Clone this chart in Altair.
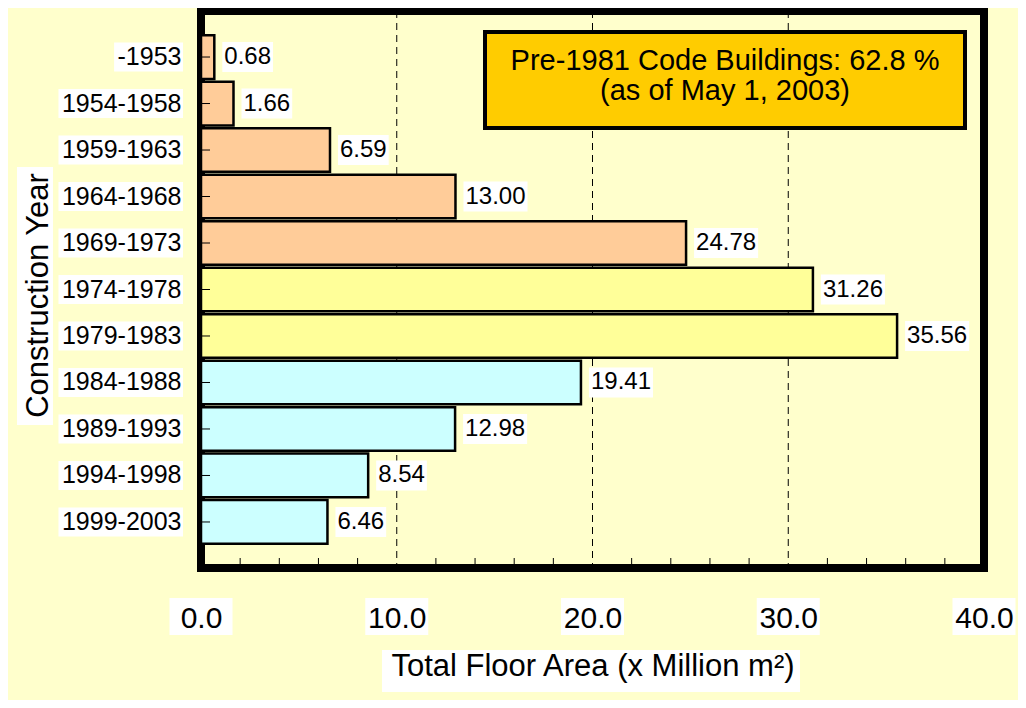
import altair as alt
import pandas as pd

# ---- data ----
years = ["-1953", "1954-1958", "1959-1963", "1964-1968", "1969-1973", "1974-1978",
         "1979-1983", "1984-1988", "1989-1993", "1994-1998", "1999-2003"]
areas = [0.68, 1.66, 6.59, 13.00, 24.78, 31.26, 35.56, 19.41, 12.98, 8.54, 6.46]
area_labels = ["0.68", "1.66", "6.59", "13.00", "24.78", "31.26", "35.56",
               "19.41", "12.98", "8.54", "6.46"]
groups = ["Pre-1971 code"] * 5 + ["1971 code"] * 2 + ["1981 code"] * 4
group_names = ["Pre-1971 code", "1971 code", "1981 code"]
group_colors = ["#FFCC99", "#FFFF99", "#CCFFFF"]
x_ticks = [0, 10, 20, 30, 40]
grid_values = [10, 20, 30]
minor_ticks = [2, 4, 6, 8, 12, 14, 16, 18, 22, 24, 26, 28, 32, 34, 36, 38]
note_lines = ["Pre-1981 Code Buildings: 62.8 %", "(as of May 1, 2003)"]
x_title = "Total Floor Area (x Million m²)"
y_title = "Construction Year"

# ---- layout ----
W, H = 783, 557
PPU = W / 40.0
FONT = "Liberation Sans"
BG = "#FFFFCC"

df = pd.DataFrame({"year": years, "area": areas, "lbl": area_labels, "grp": groups})
one = pd.DataFrame({"k": [0]})

xscale = alt.Scale(domain=[0, 40], nice=False, zero=True)
yscale = alt.Scale(domain=years, paddingInner=0.06, paddingOuter=0.52)

X = alt.X("area:Q", scale=xscale, axis=alt.Axis(
    values=x_ticks, format=".1f", labelFontSize=30, labelFont=FONT, labelColor="black",
    labelPadding=35, labelFlush=False, labelOverlap=False, ticks=False, tickSize=0,
    domain=False, grid=False, title=x_title, titleFontSize=31, titleFont=FONT,
    titleFontWeight="normal", titleColor="black", titleY=107, titleBaseline="alphabetic",
    zindex=1))
Y = alt.Y("year:N", scale=yscale, sort=None, axis=alt.Axis(
    labelFontSize=25, labelFont=FONT, labelColor="black", labelPadding=20,
    ticks=False, tickSize=0, domain=False, grid=False, title=y_title,
    titleFontSize=31, titleFont=FONT, titleFontWeight="normal", titleColor="black",
    titleX=-154, titleY=284, titleAngle=270, titleBaseline="alphabetic",
    titleAlign="center", zindex=1))

grid = alt.Chart(pd.DataFrame({"g": grid_values})).mark_rule(
    color="black", strokeWidth=1, strokeDash=[7, 5]).encode(
    x=alt.X("g:Q", scale=xscale), y=alt.value(0), y2=alt.value(H))

bars = alt.Chart(df).mark_bar(stroke="black", strokeWidth=2.5).encode(
    x=X, y=Y,
    color=alt.Color("grp:N", scale=alt.Scale(domain=group_names, range=group_colors),
                    legend=None))

yticks = alt.Chart(df).mark_rule(color="black", strokeWidth=1).encode(
    x=alt.value(0), x2=alt.value(9), y=alt.Y("year:N", scale=yscale, sort=None))

mticks = alt.Chart(pd.DataFrame({"t": minor_ticks})).mark_rule(
    color="black", strokeWidth=1).encode(
    x=alt.X("t:Q", scale=xscale), y=alt.value(H - 10), y2=alt.value(H))

# white boxes behind value labels
vbox = alt.Chart(df).transform_calculate(
    w=f"((length(datum.lbl)-1)*0.556+0.278)*24",
).transform_calculate(
    bx1=f"datum.area + 8/{PPU}",
    bx2=f"datum.area + (12 + datum.w)/{PPU}",
).mark_bar(color="white", size=30).encode(
    x=alt.X("bx1:Q", scale=xscale), x2="bx2:Q",
    y=alt.Y("year:N", scale=yscale, sort=None))

vtext = alt.Chart(df).mark_text(
    align="left", baseline="middle", dx=10, fontSize=24, font=FONT, color="black").encode(
    x=alt.X("area:Q", scale=xscale), y=alt.Y("year:N", scale=yscale, sort=None),
    text="lbl:N")

# white boxes behind y tick labels
ybox = alt.Chart(df).transform_calculate(
    w="((length(datum.year)-1)*0.556+0.333)*25",
).transform_calculate(
    bx2=f"-18/{PPU}",
    bx1=f"-(23 + datum.w)/{PPU}",
).mark_bar(color="white", size=29).encode(
    x=alt.X("bx1:Q", scale=xscale), x2="bx2:Q",
    y=alt.Y("year:N", scale=yscale, sort=None))

# white boxes behind x tick labels
xbox = alt.Chart(pd.DataFrame({"t": x_ticks})).transform_calculate(
    bx1=f"datum.t - 31.5/{PPU}", bx2=f"datum.t + 31.5/{PPU}"
).mark_rect(color="white").encode(
    x=alt.X("bx1:Q", scale=xscale), x2="bx2:Q",
    y=alt.value(587), y2=alt.value(624))

xtbox = alt.Chart(one).mark_rect(color="white").encode(
    x=alt.value(181), x2=alt.value(599), y=alt.value(639), y2=alt.value(681))
ytbox = alt.Chart(one).mark_rect(color="white").encode(
    x=alt.value(-184), x2=alt.value(-148), y=alt.value(156), y2=alt.value(414))

note_box = alt.Chart(one).mark_rect(fill="#FFCC00", stroke="black", strokeWidth=4).encode(
    x=alt.value(284), x2=alt.value(764), y=alt.value(21), y2=alt.value(117))
note_texts = [
    alt.Chart(one).mark_text(align="center", baseline="alphabetic", fontSize=29,
                             font=FONT, color="black").encode(
        x=alt.value(524), y=alt.value(59 + 30 * i), text=alt.value(line))
    for i, line in enumerate(note_lines)
]

chart = alt.layer(
    grid, bars, yticks, mticks, vbox, vtext, ybox, xbox, xtbox, ytbox, note_box, *note_texts
).properties(
    width=W, height=H,
    autosize=alt.AutoSizeParams(type="none"),
    padding={"left": 193, "top": 3, "right": 34, "bottom": 132},
    background=BG,
).configure_view(
    fill=BG, stroke="black", strokeWidth=8
)

chart.save("out.html", embed_options={"renderer": "svg", "actions": False})
